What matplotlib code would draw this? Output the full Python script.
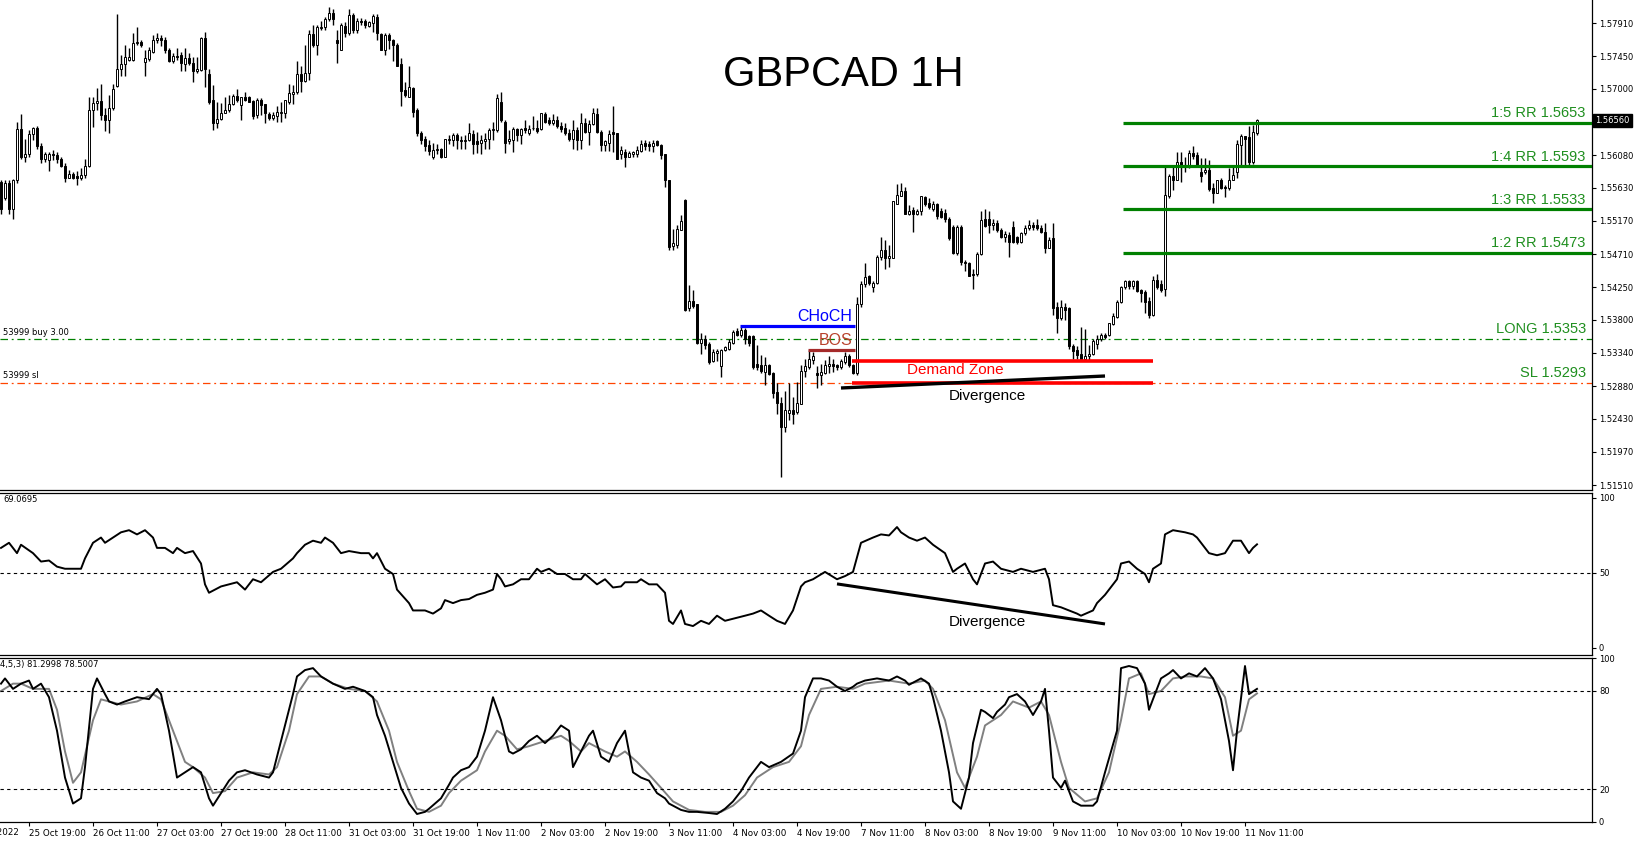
import matplotlib
matplotlib.use('Agg')
import matplotlib.pyplot as plt
import matplotlib.transforms as mtrans

# GBPCAD H1 candles, one per hour (bar 0 = 25 Oct 12:00, bar 314 = 11 Nov 14:00)
opens = [
    1.5571, 1.5548, 1.5570, 1.5534, 1.5574, 1.5644, 1.5606, 1.5610, 1.5637, 1.5646,
    1.5620, 1.5602, 1.5601, 1.5610, 1.5608, 1.5602, 1.5593, 1.5577, 1.5582, 1.5579,
    1.5576, 1.5580, 1.5593, 1.5671, 1.5680, 1.5683, 1.5663, 1.5656, 1.5673, 1.5704,
    1.5728, 1.5734, 1.5740, 1.5740, 1.5763, 1.5765, 1.5737, 1.5741, 1.5751, 1.5768,
    1.5770, 1.5768, 1.5754, 1.5738, 1.5745, 1.5747, 1.5734, 1.5742, 1.5736, 1.5724,
    1.5726, 1.5770, 1.5721, 1.5684, 1.5653, 1.5658, 1.5667, 1.5671, 1.5679, 1.5690,
    1.5677, 1.5688, 1.5688, 1.5683, 1.5664, 1.5684, 1.5679, 1.5665, 1.5659, 1.5662,
    1.5666, 1.5666, 1.5682, 1.5693, 1.5695, 1.5720, 1.5711, 1.5722, 1.5776, 1.5761,
    1.5784, 1.5785, 1.5796, 1.5805, 1.5767, 1.5754, 1.5787, 1.5777, 1.5802, 1.5781,
    1.5794, 1.5794, 1.5787, 1.5791, 1.5800, 1.5776, 1.5754, 1.5774, 1.5768, 1.5761,
    1.5734, 1.5698, 1.5689, 1.5701, 1.5670, 1.5639, 1.5631, 1.5622, 1.5606, 1.5615,
    1.5617, 1.5606, 1.5629, 1.5629, 1.5636, 1.5629, 1.5627, 1.5629, 1.5637, 1.5627,
    1.5625, 1.5627, 1.5630, 1.5643, 1.5643, 1.5682, 1.5654, 1.5627, 1.5629, 1.5644,
    1.5636, 1.5645, 1.5638, 1.5646, 1.5646, 1.5644, 1.5665, 1.5656, 1.5652, 1.5657,
    1.5648, 1.5646, 1.5639, 1.5631, 1.5643, 1.5629, 1.5653, 1.5640, 1.5651, 1.5665,
    1.5640, 1.5622, 1.5625, 1.5640, 1.5638, 1.5610, 1.5613, 1.5606, 1.5610, 1.5609,
    1.5614, 1.5625, 1.5623, 1.5621, 1.5627, 1.5622, 1.5609, 1.5573, 1.5482, 1.5483,
    1.5505, 1.5546, 1.5396, 1.5406, 1.5402, 1.5348, 1.5353, 1.5346, 1.5323, 1.5334,
    1.5316, 1.5338, 1.5339, 1.5348, 1.5364, 1.5359, 1.5366, 1.5357, 1.5357, 1.5319,
    1.5317, 1.5308, 1.5318, 1.5306, 1.5280, 1.5265, 1.5232, 1.5251, 1.5255, 1.5252,
    1.5264, 1.5309, 1.5315, 1.5324, 1.5306, 1.5304, 1.5306, 1.5316, 1.5319, 1.5317,
    1.5315, 1.5322, 1.5330, 1.5317, 1.5306, 1.5402, 1.5430, 1.5440, 1.5426, 1.5431,
    1.5467, 1.5476, 1.5465, 1.5466, 1.5541, 1.5552, 1.5559, 1.5527, 1.5532, 1.5527,
    1.5530, 1.5550, 1.5542, 1.5534, 1.5540, 1.5530, 1.5528, 1.5520, 1.5508, 1.5472,
    1.5508, 1.5460, 1.5459, 1.5444, 1.5443, 1.5471, 1.5519, 1.5519, 1.5511, 1.5514,
    1.5505, 1.5494, 1.5498, 1.5508, 1.5494, 1.5488, 1.5500, 1.5507, 1.5511, 1.5511,
    1.5507, 1.5502, 1.5480, 1.5493, 1.5397, 1.5382, 1.5397, 1.5396, 1.5343, 1.5338,
    1.5332, 1.5325, 1.5330, 1.5332, 1.5347, 1.5353, 1.5359, 1.5359, 1.5374, 1.5384,
    1.5405, 1.5425, 1.5433, 1.5427, 1.5433, 1.5421, 1.5419, 1.5406, 1.5386, 1.5435,
    1.5429, 1.5423, 1.5551, 1.5579, 1.5574, 1.5599, 1.5594, 1.5591, 1.5611, 1.5608,
    1.5584, 1.5585, 1.5587, 1.5563, 1.5556, 1.5573, 1.5564, 1.5562, 1.5574, 1.5585,
    1.5622, 1.5634, 1.5633, 1.5599, 1.5639,
]
highs = [
    1.5574, 1.5574, 1.5574, 1.5575, 1.5654, 1.5665, 1.5631, 1.5643, 1.5647, 1.5648,
    1.5625, 1.5613, 1.5613, 1.5615, 1.5613, 1.5606, 1.5597, 1.5587, 1.5584, 1.5586,
    1.5590, 1.5602, 1.5689, 1.5689, 1.5701, 1.5707, 1.5673, 1.5691, 1.5707, 1.5804,
    1.5747, 1.5761, 1.5756, 1.5777, 1.5785, 1.5767, 1.5754, 1.5758, 1.5774, 1.5777,
    1.5774, 1.5772, 1.5756, 1.5749, 1.5756, 1.5751, 1.5756, 1.5749, 1.5744, 1.5744,
    1.5771, 1.5779, 1.5727, 1.5705, 1.5682, 1.5680, 1.5689, 1.5691, 1.5693, 1.5699,
    1.5689, 1.5695, 1.5690, 1.5685, 1.5687, 1.5687, 1.5679, 1.5668, 1.5668, 1.5676,
    1.5682, 1.5685, 1.5707, 1.5705, 1.5738, 1.5731, 1.5761, 1.5782, 1.5788, 1.5788,
    1.5794, 1.5799, 1.5813, 1.5810, 1.5782, 1.5791, 1.5792, 1.5810, 1.5805, 1.5798,
    1.5798, 1.5796, 1.5794, 1.5804, 1.5804, 1.5777, 1.5777, 1.5777, 1.5769, 1.5764,
    1.5742, 1.5710, 1.5731, 1.5703, 1.5673, 1.5641, 1.5634, 1.5629, 1.5625, 1.5624,
    1.5618, 1.5631, 1.5636, 1.5639, 1.5638, 1.5634, 1.5636, 1.5653, 1.5643, 1.5640,
    1.5636, 1.5639, 1.5645, 1.5654, 1.5693, 1.5696, 1.5656, 1.5643, 1.5647, 1.5645,
    1.5645, 1.5657, 1.5650, 1.5662, 1.5657, 1.5667, 1.5668, 1.5661, 1.5665, 1.5662,
    1.5654, 1.5653, 1.5644, 1.5657, 1.5647, 1.5666, 1.5659, 1.5657, 1.5674, 1.5674,
    1.5643, 1.5629, 1.5643, 1.5676, 1.5639, 1.5620, 1.5617, 1.5614, 1.5614, 1.5620,
    1.5629, 1.5629, 1.5627, 1.5629, 1.5629, 1.5623, 1.5610, 1.5574, 1.5506, 1.5511,
    1.5525, 1.5547, 1.5428, 1.5421, 1.5402, 1.5362, 1.5359, 1.5349, 1.5339, 1.5340,
    1.5340, 1.5343, 1.5353, 1.5366, 1.5368, 1.5370, 1.5368, 1.5359, 1.5359, 1.5345,
    1.5331, 1.5329, 1.5319, 1.5308, 1.5292, 1.5273, 1.5282, 1.5293, 1.5273, 1.5294,
    1.5317, 1.5326, 1.5338, 1.5335, 1.5316, 1.5319, 1.5324, 1.5330, 1.5325, 1.5319,
    1.5326, 1.5335, 1.5332, 1.5319, 1.5412, 1.5433, 1.5458, 1.5442, 1.5433, 1.5470,
    1.5495, 1.5491, 1.5484, 1.5545, 1.5568, 1.5570, 1.5564, 1.5539, 1.5536, 1.5534,
    1.5552, 1.5552, 1.5548, 1.5544, 1.5542, 1.5535, 1.5534, 1.5523, 1.5511, 1.5511,
    1.5511, 1.5463, 1.5460, 1.5451, 1.5474, 1.5531, 1.5533, 1.5530, 1.5520, 1.5518,
    1.5507, 1.5503, 1.5502, 1.5517, 1.5496, 1.5502, 1.5511, 1.5518, 1.5516, 1.5520,
    1.5511, 1.5514, 1.5495, 1.5514, 1.5404, 1.5408, 1.5403, 1.5397, 1.5346, 1.5343,
    1.5370, 1.5367, 1.5345, 1.5353, 1.5359, 1.5362, 1.5361, 1.5376, 1.5389, 1.5407,
    1.5427, 1.5435, 1.5435, 1.5435, 1.5435, 1.5423, 1.5421, 1.5412, 1.5440, 1.5444,
    1.5435, 1.5594, 1.5582, 1.5593, 1.5613, 1.5612, 1.5606, 1.5615, 1.5621, 1.5612,
    1.5604, 1.5604, 1.5601, 1.5569, 1.5574, 1.5576, 1.5566, 1.5590, 1.5592, 1.5629,
    1.5637, 1.5635, 1.5648, 1.5650, 1.5658,
]
lows = [
    1.5527, 1.5546, 1.5527, 1.5519, 1.5570, 1.5602, 1.5598, 1.5606, 1.5629, 1.5617,
    1.5597, 1.5599, 1.5586, 1.5601, 1.5597, 1.5592, 1.5571, 1.5576, 1.5575, 1.5566,
    1.5574, 1.5576, 1.5592, 1.5647, 1.5671, 1.5656, 1.5642, 1.5638, 1.5671, 1.5702,
    1.5718, 1.5718, 1.5738, 1.5738, 1.5761, 1.5758, 1.5718, 1.5738, 1.5750, 1.5763,
    1.5759, 1.5749, 1.5737, 1.5735, 1.5740, 1.5724, 1.5724, 1.5733, 1.5710, 1.5722,
    1.5725, 1.5703, 1.5679, 1.5643, 1.5645, 1.5656, 1.5666, 1.5668, 1.5677, 1.5682,
    1.5656, 1.5683, 1.5681, 1.5658, 1.5659, 1.5664, 1.5652, 1.5657, 1.5657, 1.5654,
    1.5654, 1.5659, 1.5679, 1.5679, 1.5693, 1.5695, 1.5710, 1.5712, 1.5758, 1.5747,
    1.5782, 1.5782, 1.5794, 1.5788, 1.5735, 1.5753, 1.5772, 1.5774, 1.5777, 1.5777,
    1.5788, 1.5784, 1.5785, 1.5778, 1.5768, 1.5753, 1.5747, 1.5755, 1.5738, 1.5731,
    1.5676, 1.5689, 1.5688, 1.5661, 1.5635, 1.5624, 1.5614, 1.5608, 1.5603, 1.5609,
    1.5604, 1.5605, 1.5623, 1.5620, 1.5617, 1.5617, 1.5617, 1.5627, 1.5609, 1.5611,
    1.5610, 1.5617, 1.5617, 1.5629, 1.5640, 1.5654, 1.5611, 1.5623, 1.5613, 1.5627,
    1.5624, 1.5638, 1.5636, 1.5643, 1.5638, 1.5643, 1.5652, 1.5650, 1.5650, 1.5646,
    1.5640, 1.5636, 1.5628, 1.5616, 1.5615, 1.5617, 1.5638, 1.5622, 1.5650, 1.5638,
    1.5614, 1.5614, 1.5614, 1.5613, 1.5602, 1.5602, 1.5591, 1.5605, 1.5606, 1.5605,
    1.5613, 1.5615, 1.5614, 1.5613, 1.5620, 1.5603, 1.5564, 1.5477, 1.5477, 1.5479,
    1.5504, 1.5392, 1.5392, 1.5396, 1.5346, 1.5332, 1.5340, 1.5319, 1.5322, 1.5323,
    1.5301, 1.5337, 1.5338, 1.5347, 1.5357, 1.5356, 1.5347, 1.5343, 1.5312, 1.5310,
    1.5306, 1.5289, 1.5304, 1.5271, 1.5250, 1.5162, 1.5225, 1.5241, 1.5235, 1.5250,
    1.5263, 1.5301, 1.5312, 1.5319, 1.5285, 1.5289, 1.5305, 1.5306, 1.5308, 1.5310,
    1.5312, 1.5319, 1.5315, 1.5305, 1.5303, 1.5398, 1.5426, 1.5428, 1.5418, 1.5430,
    1.5463, 1.5450, 1.5453, 1.5465, 1.5540, 1.5551, 1.5527, 1.5525, 1.5502, 1.5525,
    1.5525, 1.5537, 1.5533, 1.5530, 1.5519, 1.5521, 1.5515, 1.5490, 1.5471, 1.5470,
    1.5456, 1.5447, 1.5440, 1.5422, 1.5441, 1.5470, 1.5509, 1.5500, 1.5504, 1.5501,
    1.5493, 1.5488, 1.5467, 1.5486, 1.5485, 1.5486, 1.5497, 1.5504, 1.5505, 1.5505,
    1.5500, 1.5472, 1.5479, 1.5387, 1.5362, 1.5380, 1.5380, 1.5340, 1.5326, 1.5325,
    1.5324, 1.5324, 1.5324, 1.5331, 1.5340, 1.5351, 1.5354, 1.5357, 1.5373, 1.5383,
    1.5403, 1.5422, 1.5423, 1.5423, 1.5419, 1.5404, 1.5389, 1.5382, 1.5385, 1.5422,
    1.5419, 1.5413, 1.5548, 1.5560, 1.5573, 1.5571, 1.5585, 1.5590, 1.5603, 1.5593,
    1.5571, 1.5582, 1.5559, 1.5542, 1.5555, 1.5561, 1.5550, 1.5560, 1.5573, 1.5576,
    1.5594, 1.5594, 1.5594, 1.5596, 1.5636,
]
closes = [
    1.5534, 1.5570, 1.5534, 1.5574, 1.5644, 1.5606, 1.5610, 1.5637, 1.5646, 1.5620,
    1.5602, 1.5610, 1.5610, 1.5608, 1.5602, 1.5593, 1.5577, 1.5582, 1.5577, 1.5576,
    1.5580, 1.5593, 1.5671, 1.5680, 1.5683, 1.5663, 1.5656, 1.5673, 1.5699, 1.5728,
    1.5734, 1.5744, 1.5744, 1.5764, 1.5765, 1.5760, 1.5742, 1.5754, 1.5768, 1.5770,
    1.5767, 1.5754, 1.5738, 1.5745, 1.5744, 1.5735, 1.5742, 1.5736, 1.5724, 1.5727,
    1.5770, 1.5728, 1.5682, 1.5653, 1.5658, 1.5667, 1.5671, 1.5679, 1.5690, 1.5685,
    1.5688, 1.5685, 1.5682, 1.5662, 1.5684, 1.5677, 1.5666, 1.5660, 1.5664, 1.5668,
    1.5668, 1.5684, 1.5694, 1.5695, 1.5721, 1.5711, 1.5722, 1.5776, 1.5761, 1.5785,
    1.5786, 1.5796, 1.5805, 1.5796, 1.5764, 1.5788, 1.5777, 1.5802, 1.5781, 1.5794,
    1.5793, 1.5788, 1.5792, 1.5801, 1.5777, 1.5754, 1.5774, 1.5767, 1.5761, 1.5732,
    1.5697, 1.5691, 1.5702, 1.5668, 1.5639, 1.5629, 1.5620, 1.5614, 1.5615, 1.5617,
    1.5606, 1.5630, 1.5630, 1.5636, 1.5629, 1.5627, 1.5629, 1.5638, 1.5624, 1.5624,
    1.5629, 1.5631, 1.5643, 1.5644, 1.5687, 1.5657, 1.5625, 1.5630, 1.5644, 1.5636,
    1.5644, 1.5643, 1.5644, 1.5645, 1.5642, 1.5666, 1.5654, 1.5652, 1.5657, 1.5648,
    1.5644, 1.5639, 1.5631, 1.5643, 1.5629, 1.5652, 1.5640, 1.5651, 1.5666, 1.5640,
    1.5622, 1.5627, 1.5637, 1.5637, 1.5603, 1.5615, 1.5606, 1.5611, 1.5613, 1.5615,
    1.5624, 1.5621, 1.5620, 1.5625, 1.5622, 1.5608, 1.5573, 1.5481, 1.5487, 1.5506,
    1.5517, 1.5394, 1.5406, 1.5399, 1.5348, 1.5353, 1.5345, 1.5322, 1.5335, 1.5337,
    1.5338, 1.5342, 1.5349, 1.5363, 1.5359, 1.5366, 1.5353, 1.5348, 1.5315, 1.5314,
    1.5309, 1.5317, 1.5305, 1.5279, 1.5265, 1.5232, 1.5255, 1.5255, 1.5250, 1.5265,
    1.5309, 1.5316, 1.5325, 1.5330, 1.5303, 1.5308, 1.5318, 1.5319, 1.5316, 1.5314,
    1.5323, 1.5330, 1.5317, 1.5306, 1.5402, 1.5429, 1.5439, 1.5431, 1.5431, 1.5467,
    1.5476, 1.5465, 1.5468, 1.5544, 1.5553, 1.5559, 1.5527, 1.5531, 1.5527, 1.5531,
    1.5551, 1.5541, 1.5536, 1.5540, 1.5524, 1.5523, 1.5520, 1.5493, 1.5472, 1.5508,
    1.5460, 1.5458, 1.5441, 1.5442, 1.5471, 1.5518, 1.5510, 1.5511, 1.5514, 1.5504,
    1.5494, 1.5499, 1.5488, 1.5488, 1.5488, 1.5500, 1.5507, 1.5511, 1.5508, 1.5507,
    1.5501, 1.5480, 1.5491, 1.5396, 1.5382, 1.5397, 1.5394, 1.5343, 1.5337, 1.5331,
    1.5325, 1.5330, 1.5332, 1.5351, 1.5353, 1.5359, 1.5356, 1.5375, 1.5385, 1.5405,
    1.5425, 1.5433, 1.5427, 1.5433, 1.5420, 1.5417, 1.5405, 1.5386, 1.5435, 1.5426,
    1.5421, 1.5553, 1.5579, 1.5574, 1.5599, 1.5593, 1.5591, 1.5611, 1.5607, 1.5594,
    1.5579, 1.5588, 1.5561, 1.5556, 1.5573, 1.5563, 1.5563, 1.5574, 1.5580, 1.5623,
    1.5634, 1.5631, 1.5599, 1.5640, 1.5656,
]

# RSI
rsi_bars = [0, 2, 4, 5, 8, 10, 12, 14, 16, 20, 21, 23, 25, 26, 28, 30, 32, 34, 36, 38,
            39, 41, 43, 44, 46, 48, 50, 51, 52, 55, 57, 59, 61, 63, 65, 68, 70, 73, 74, 76,
            78, 80, 81, 83, 85, 87, 90, 92, 93, 94, 96, 98, 99, 102, 103, 106, 108, 110, 111, 113,
            115, 117, 119, 121, 123, 124, 125, 126, 128, 130, 132, 134, 135, 137, 139, 141, 143, 145, 146, 149,
            151, 153, 155, 156, 159, 160, 162, 164, 166, 167, 168, 170, 171, 173, 175, 177, 179, 181, 184, 186,
            188, 190, 192, 194, 196, 198, 200, 201, 203, 206, 209, 211, 213, 215, 218, 220, 222, 224, 225, 227,
            229, 231, 233, 236, 238, 239, 241, 243, 244, 246, 248, 250, 253, 255, 258, 261, 262, 263, 265, 267,
            269, 270, 273, 274, 276, 279, 280, 282, 284, 286, 287, 288, 290, 291, 293, 296, 298, 299, 301, 302,
            304, 306, 308, 310, 312, 313, 314]
rsi_vals = [66.7, 70.1, 63.2, 68.8, 63.2, 57.6, 58.3, 54.2, 52.8, 52.8, 59.7, 70.1, 73.6, 70.1, 73.6,
            77.1, 78.5, 75.7, 78.5, 73.6, 66.7, 66.7, 63.2, 66.7, 63.2, 64.6, 56.3, 42.4, 36.8, 41.0,
            42.4, 43.8, 38.9, 45.8, 43.8, 50.7, 52.8, 59.7, 63.2, 68.8, 71.5, 70.1, 73.6, 70.1, 63.2,
            64.6, 63.2, 63.2, 59.7, 63.2, 52.8, 49.3, 38.9, 29.9, 25.0, 25.0, 22.9, 26.4, 31.9, 29.9,
            31.9, 32.6, 35.4, 36.8, 38.9, 49.3, 45.8, 41.0, 42.4, 45.8, 45.8, 52.8, 50.7, 52.8, 49.3,
            49.3, 45.8, 45.8, 49.3, 42.4, 45.8, 40.3, 41.0, 43.8, 43.8, 45.8, 42.4, 42.4, 36.8, 18.1,
            16.0, 25.0, 16.0, 14.6, 18.1, 16.0, 21.5, 18.1, 20.1, 21.5, 22.9, 25.0, 21.5, 18.1, 16.0,
            25.0, 41.0, 43.8, 45.8, 50.7, 45.8, 47.9, 50.7, 70.1, 73.6, 75.7, 75.0, 80.6, 77.1, 73.6,
            71.5, 73.6, 68.8, 63.2, 50.7, 52.8, 56.3, 45.8, 42.4, 56.3, 57.6, 52.8, 50.7, 52.8, 50.7,
            52.8, 45.8, 28.5, 27.1, 25.0, 22.9, 21.5, 25.0, 29.9, 35.4, 45.8, 56.3, 57.6, 52.8, 49.3,
            43.8, 52.8, 56.3, 75.7, 78.5, 77.1, 75.7, 73.6, 66.7, 63.2, 61.8, 63.2, 71.5, 71.5, 63.2,
            66.7, 69.07]

# Stochastic main line (black)
st_bars = [0, 1, 3, 5, 7, 8, 10, 12, 14, 16, 18, 20, 21, 23, 24, 26, 27, 29, 31, 34,
           37, 39, 40, 42, 44, 46, 48, 50, 52, 53, 55, 57, 59, 61, 64, 67, 68, 70, 73, 74,
           76, 78, 80, 83, 86, 88, 91, 93, 94, 96, 98, 100, 102, 104, 106, 107, 110, 112, 113, 115,
           117, 119, 121, 123, 125, 127, 128, 130, 132, 134, 136, 138, 140, 142, 143, 145, 147, 148, 150, 152,
           154, 156, 158, 160, 162, 164, 166, 167, 170, 172, 174, 177, 179, 181, 183, 185, 187, 190, 192, 195,
           198, 200, 201, 203, 205, 207, 209, 211, 213, 214, 216, 219, 222, 224, 226, 227, 230, 232, 233, 235,
           237, 238, 240, 242, 243, 245, 246, 248, 249, 251, 252, 254, 256, 258, 260, 261, 262, 263, 265, 266,
           268, 270, 273, 274, 276, 279, 280, 282, 284, 286, 287, 288, 290, 292, 293, 295, 297, 299, 301, 303,
           305, 307, 308, 309, 311, 312, 314]
st_main = [84.5, 87.7, 81.3, 84.5, 86.4, 81.3, 84.5, 76.2, 55.7, 27, 11.1, 14.3, 33.4, 81.3, 87.7,
           78.1, 73.6, 71.7, 73.6, 76.2, 75, 81.3, 78.1, 55.7, 27, 30.2, 33.4, 30.2, 14.3, 9.8,
           17.5, 25.1, 30.2, 31.5, 28.9, 27, 30.2, 49.4, 78.1, 88.9, 92.8, 94, 88.9, 84.5, 81.3,
           82.6, 80, 76.2, 65.3, 52.6, 36.6, 20.7, 11.1, 4.7, 6, 7.9, 14.3, 22.6, 27, 31.5,
           33.4, 39.8, 55.7, 76.2, 62.1, 43, 41.7, 44.3, 49.4, 52.6, 48.1, 52.6, 58.9, 55.7, 33.4,
           43, 52.6, 55.7, 39.8, 36.6, 48.1, 55.7, 30.2, 27, 25.1, 17.5, 14.3, 11.1, 7.2, 6,
           6, 5.3, 4.7, 7.9, 12.4, 18.7, 27, 36.6, 33.4, 36.6, 41.7, 55.7, 76.2, 87.7, 87.7,
           86.4, 82.6, 80, 82.6, 84.5, 86.4, 87.7, 86.4, 88.9, 86.4, 83.8, 87.7, 84.5, 76.2, 55.7,
           30.2, 12.4, 7.9, 27, 48.1, 68.5, 67.2, 63.4, 67.2, 71.7, 76.2, 78.1, 73.6, 65.3, 73.6,
           81.3, 55.7, 27, 20.7, 25.1, 12.4, 9.8, 9.8, 12.4, 30.2, 55.7, 94, 95.3, 94, 84.5,
           68.5, 75, 87.7, 90.8, 92.8, 87.7, 90.8, 88.9, 94, 87.7, 75, 49.4, 31.5, 55.7, 95.3,
           78.1, 81.3]
# Stochastic signal line (grey)
sig_bars = [0, 3, 5, 8, 12, 14, 16, 18, 20, 23, 25, 27, 30, 34, 38, 40, 43, 46, 48, 51,
            53, 56, 59, 63, 67, 69, 72, 74, 77, 80, 83, 87, 91, 94, 97, 99, 102, 104, 107, 110,
            112, 115, 119, 121, 124, 126, 129, 132, 136, 140, 142, 145, 147, 151, 154, 156, 159, 162, 165, 168,
            172, 176, 180, 183, 186, 189, 193, 197, 200, 202, 205, 209, 213, 216, 222, 227, 231, 233, 236, 239,
            241, 244, 246, 250, 253, 257, 260, 262, 265, 267, 271, 274, 277, 280, 282, 285, 287, 290, 293, 296,
            300, 303, 306, 308, 310, 312, 314]
st_signal = [80, 84.5, 84.5, 81.3, 81.3, 68.5, 43, 23.8, 30.2, 62.1, 74.9, 73.6, 71.7, 73.6, 78.1,
             74.9, 55.7, 36.6, 33.4, 27, 17.5, 18.7, 27, 30.2, 28.9, 33.4, 55.7, 78.1, 88.9, 88.9,
             84.5, 81.3, 80, 73.6, 55.7, 36.6, 18.7, 7.9, 6, 9.8, 17.5, 25.1, 31.5, 43, 55.7,
             52.6, 44.3, 46.2, 49.4, 52.6, 49.4, 43, 48.1, 43, 39.8, 43, 36.6, 28.9, 20.7, 12.4,
             7.2, 6, 6, 9.8, 16.2, 27, 33.4, 36.6, 46.2, 65.3, 81.3, 82.6, 81.3, 84.5, 86.4,
             84.5, 86.4, 81.3, 62.1, 30.2, 20.7, 39.8, 58.9, 65.3, 73.6, 69.8, 73.6, 65.3, 36.6, 20.7,
             12.4, 14.3, 30.2, 62.1, 87.7, 90.8, 78.1, 80, 87.7, 88.9, 88.9, 87.7, 76.2, 52.6, 55.7,
             74.9, 78.5]

price_ticks = [1.57910, 1.57450, 1.57000, 1.56560, 1.56080, 1.55630, 1.55170,
               1.54710, 1.54250, 1.53800, 1.53340, 1.52880, 1.52430, 1.51970, 1.51510]
date_bars = [7, 23, 39, 55, 71, 87, 103, 119, 135, 151, 167, 183, 199, 215,
             231, 247, 263, 279, 295, 311]
date_labels = ['25 Oct 19:00', '26 Oct 11:00', '27 Oct 03:00', '27 Oct 19:00',
               '28 Oct 11:00', '31 Oct 03:00', '31 Oct 19:00', '1 Nov 11:00', '2 Nov 03:00',
               '2 Nov 19:00', '3 Nov 11:00', '4 Nov 03:00', '4 Nov 19:00', '7 Nov 11:00',
               '8 Nov 03:00', '8 Nov 19:00', '9 Nov 11:00', '10 Nov 03:00', '10 Nov 19:00',
               '11 Nov 11:00']
first_date_bar = -9
first_date_label = '25 Oct 2022'

tp_levels = [1.5653, 1.5593, 1.5533, 1.5473]
tp_labels = ['1:5 RR 1.5653', '1:4 RR 1.5593', '1:3 RR 1.5533', '1:2 RR 1.5473']
long_level = 1.5353
sl_level = 1.5293
choch_level = 1.5371
bos_level = 1.5338
demand_top = 1.5323
last_price = 1.56560

W, H = 1636, 842
fig = plt.figure(figsize=(W / 100, H / 100), dpi=100)
fig.patch.set_facecolor('white')


def panel(top, bottom):
    return fig.add_axes([0, 1 - bottom / H, 1592 / W, (bottom - top) / H])


ax = panel(0, 490)
ax_rsi = panel(493, 655)
ax_st = panel(658, 822)

XMIN, XMAX = -0.25, 397.75
for a in (ax, ax_rsi, ax_st):
    a.set_xlim(XMIN, XMAX)
    a.set_facecolor('white')
    a.spines['left'].set_visible(False)
    for s in ('right', 'bottom', 'top'):
        a.spines[s].set_color('black')
        a.spines[s].set_linewidth(0.9)
    a.yaxis.tick_right()
    a.tick_params(axis='y', direction='out', length=3, width=0.8, labelsize=6, pad=2,
                  colors='black')
ax.spines['top'].set_visible(False)
ax.set_xticks([])
ax_rsi.set_xticks([])

# ---- candles
n = len(closes)
xs = list(range(n))
ax.vlines(xs, lows, highs, color='black', linewidth=1.0, zorder=2)
bottoms = [min(o, c) for o, c in zip(opens, closes)]
heights = [max(abs(c - o), 0.00003) for o, c in zip(opens, closes)]
faces = ['white' if c >= o else 'black' for o, c in zip(opens, closes)]
ax.bar(xs, heights, bottom=bottoms, width=0.62, color=faces, edgecolor='black',
       linewidth=0.7, zorder=3)
ax.set_ylim(1.51442, 1.58229)
ax.set_yticks(price_ticks)
# the current price box takes the place of its own scale label
ax.set_yticklabels(['' if abs(v - last_price) < 1e-6 else '%.5f' % v for v in price_ticks],
                   fontfamily='DejaVu Sans')

ann_font = 'Liberation Sans'
green_txt = '#1f8f1f'

# trade levels
ax.axhline(long_level, color='#008000', lw=0.9, ls=(0, (6, 3, 1.5, 3)), zorder=1)
ax.axhline(sl_level, color='#ff4500', lw=0.9, ls=(0, (6, 3, 1.5, 3)), zorder=1)
ax.text(0.5, long_level + 0.0003, '53999 buy 3.00', fontsize=6, color='black',
        va='bottom', ha='left', family='DejaVu Sans')
ax.text(0.5, sl_level + 0.0003, '53999 sl', fontsize=6, color='black',
        va='bottom', ha='left', family='DejaVu Sans')
ax.text(396.2, long_level + 0.0004, 'LONG 1.5353', fontsize=10.5, color=green_txt,
        ha='right', va='bottom', family=ann_font)
ax.text(396.2, sl_level + 0.0004, 'SL 1.5293', fontsize=10.5, color=green_txt,
        ha='right', va='bottom', family=ann_font)

for lvl, lab in zip(tp_levels, tp_labels):
    ax.plot([280.5, XMAX], [lvl, lvl], color='#008000', lw=2.3, solid_capstyle='butt', zorder=4)
    ax.text(396.2, lvl + 0.0003, lab, fontsize=10.5, color=green_txt, ha='right',
            va='bottom', family=ann_font)

# structure
ax.plot([184.75, 213.5], [choch_level, choch_level], color='#0000ff', lw=2.3,
        solid_capstyle='butt', zorder=4)
ax.text(212.8, choch_level + 0.0003, 'CHoCH', color='#0000ff', fontsize=11.5,
        ha='right', va='bottom', family=ann_font)
ax.plot([201.75, 213.5], [bos_level, bos_level], color='#a52a2a', lw=2.3,
        solid_capstyle='butt', zorder=4)
ax.text(212.8, bos_level + 0.0003, 'BOS', color='#b8412b', fontsize=11.5,
        ha='right', va='bottom', family=ann_font)
ax.plot([212.75, 288], [demand_top, demand_top], color='#ff0000', lw=2.6,
        solid_capstyle='butt', zorder=4)
ax.plot([212.75, 288], [sl_level, sl_level], color='#ff0000', lw=2.6,
        solid_capstyle='butt', zorder=4)
ax.text(238.5, 1.5310, 'Demand Zone', color='#ff0000', fontsize=11, ha='center',
        va='center', family=ann_font)
ax.plot([210, 276], [1.52855, 1.53021], color='black', lw=2.4, solid_capstyle='butt', zorder=5)
ax.text(246.5, 1.52744, 'Divergence', color='black', fontsize=11, ha='center',
        va='center', family=ann_font)

ax.text(843 / 1592, 1 - 75 / 490, 'GBPCAD 1H', transform=ax.transAxes, fontsize=30,
        ha='center', va='center', family=ann_font, color='black')

# last price marker on the scale
trans = mtrans.blended_transform_factory(ax.transAxes, ax.transData)
ax.text(1.002, last_price, '%.5f' % last_price, transform=trans, fontsize=6,
        color='white', va='center', ha='left', family='DejaVu Sans', clip_on=False,
        bbox=dict(boxstyle='square,pad=0.25', fc='black', ec='black'))

# ---- RSI panel
ax_rsi.set_ylim(-4.7, 103.3)
ax_rsi.plot(rsi_bars, rsi_vals, color='black', lw=1.4)
ax_rsi.axhline(50, color='black', lw=0.8, ls=(0, (3, 3)))
ax_rsi.set_yticks([0, 50, 100])
ax_rsi.set_yticklabels(['0', '50', '100'])
ax_rsi.plot([209, 276], [42.7, 16.0], color='black', lw=2.2, solid_capstyle='butt')
ax_rsi.text(246.5, 17.3, 'Divergence', color='black', fontsize=11, ha='center',
            va='center', family=ann_font)
ax_rsi.text(0.002, 0.985, '69.0695', transform=ax_rsi.transAxes, fontsize=6,
            va='top', ha='left', family='DejaVu Sans')

# ---- Stochastic panel
ax_st.set_ylim(-0.2, 100.2)
ax_st.plot(sig_bars, st_signal, color='#808080', lw=1.4)
ax_st.plot(st_bars, st_main, color='black', lw=1.4)
for lv in (20, 80):
    ax_st.axhline(lv, color='black', lw=0.8, ls=(0, (3, 3)))
ax_st.set_yticks([0, 20, 80, 100])
ax_st.set_yticklabels(['0', '20', '80', '100'])
ax_st.text(0.0, 0.985, '4,5,3) 81.2998 78.5007', transform=ax_st.transAxes, fontsize=6,
           va='top', ha='left', family='DejaVu Sans')
ax_st.set_xticks(date_bars)
ax_st.set_xticklabels(date_labels, ha='left', fontsize=6.3, family='DejaVu Sans')
ax_st.tick_params(axis='x', direction='out', length=3, width=0.8, pad=2)
# first date label sits left of the window and is cut by the edge
xt = mtrans.blended_transform_factory(ax_st.transData, ax_st.transAxes)
ax_st.text(first_date_bar, -0.035, first_date_label, transform=xt, fontsize=6.3,
           ha='left', va='top', family='DejaVu Sans', clip_on=False)

fig.savefig('out.png', dpi=100, facecolor='white')
